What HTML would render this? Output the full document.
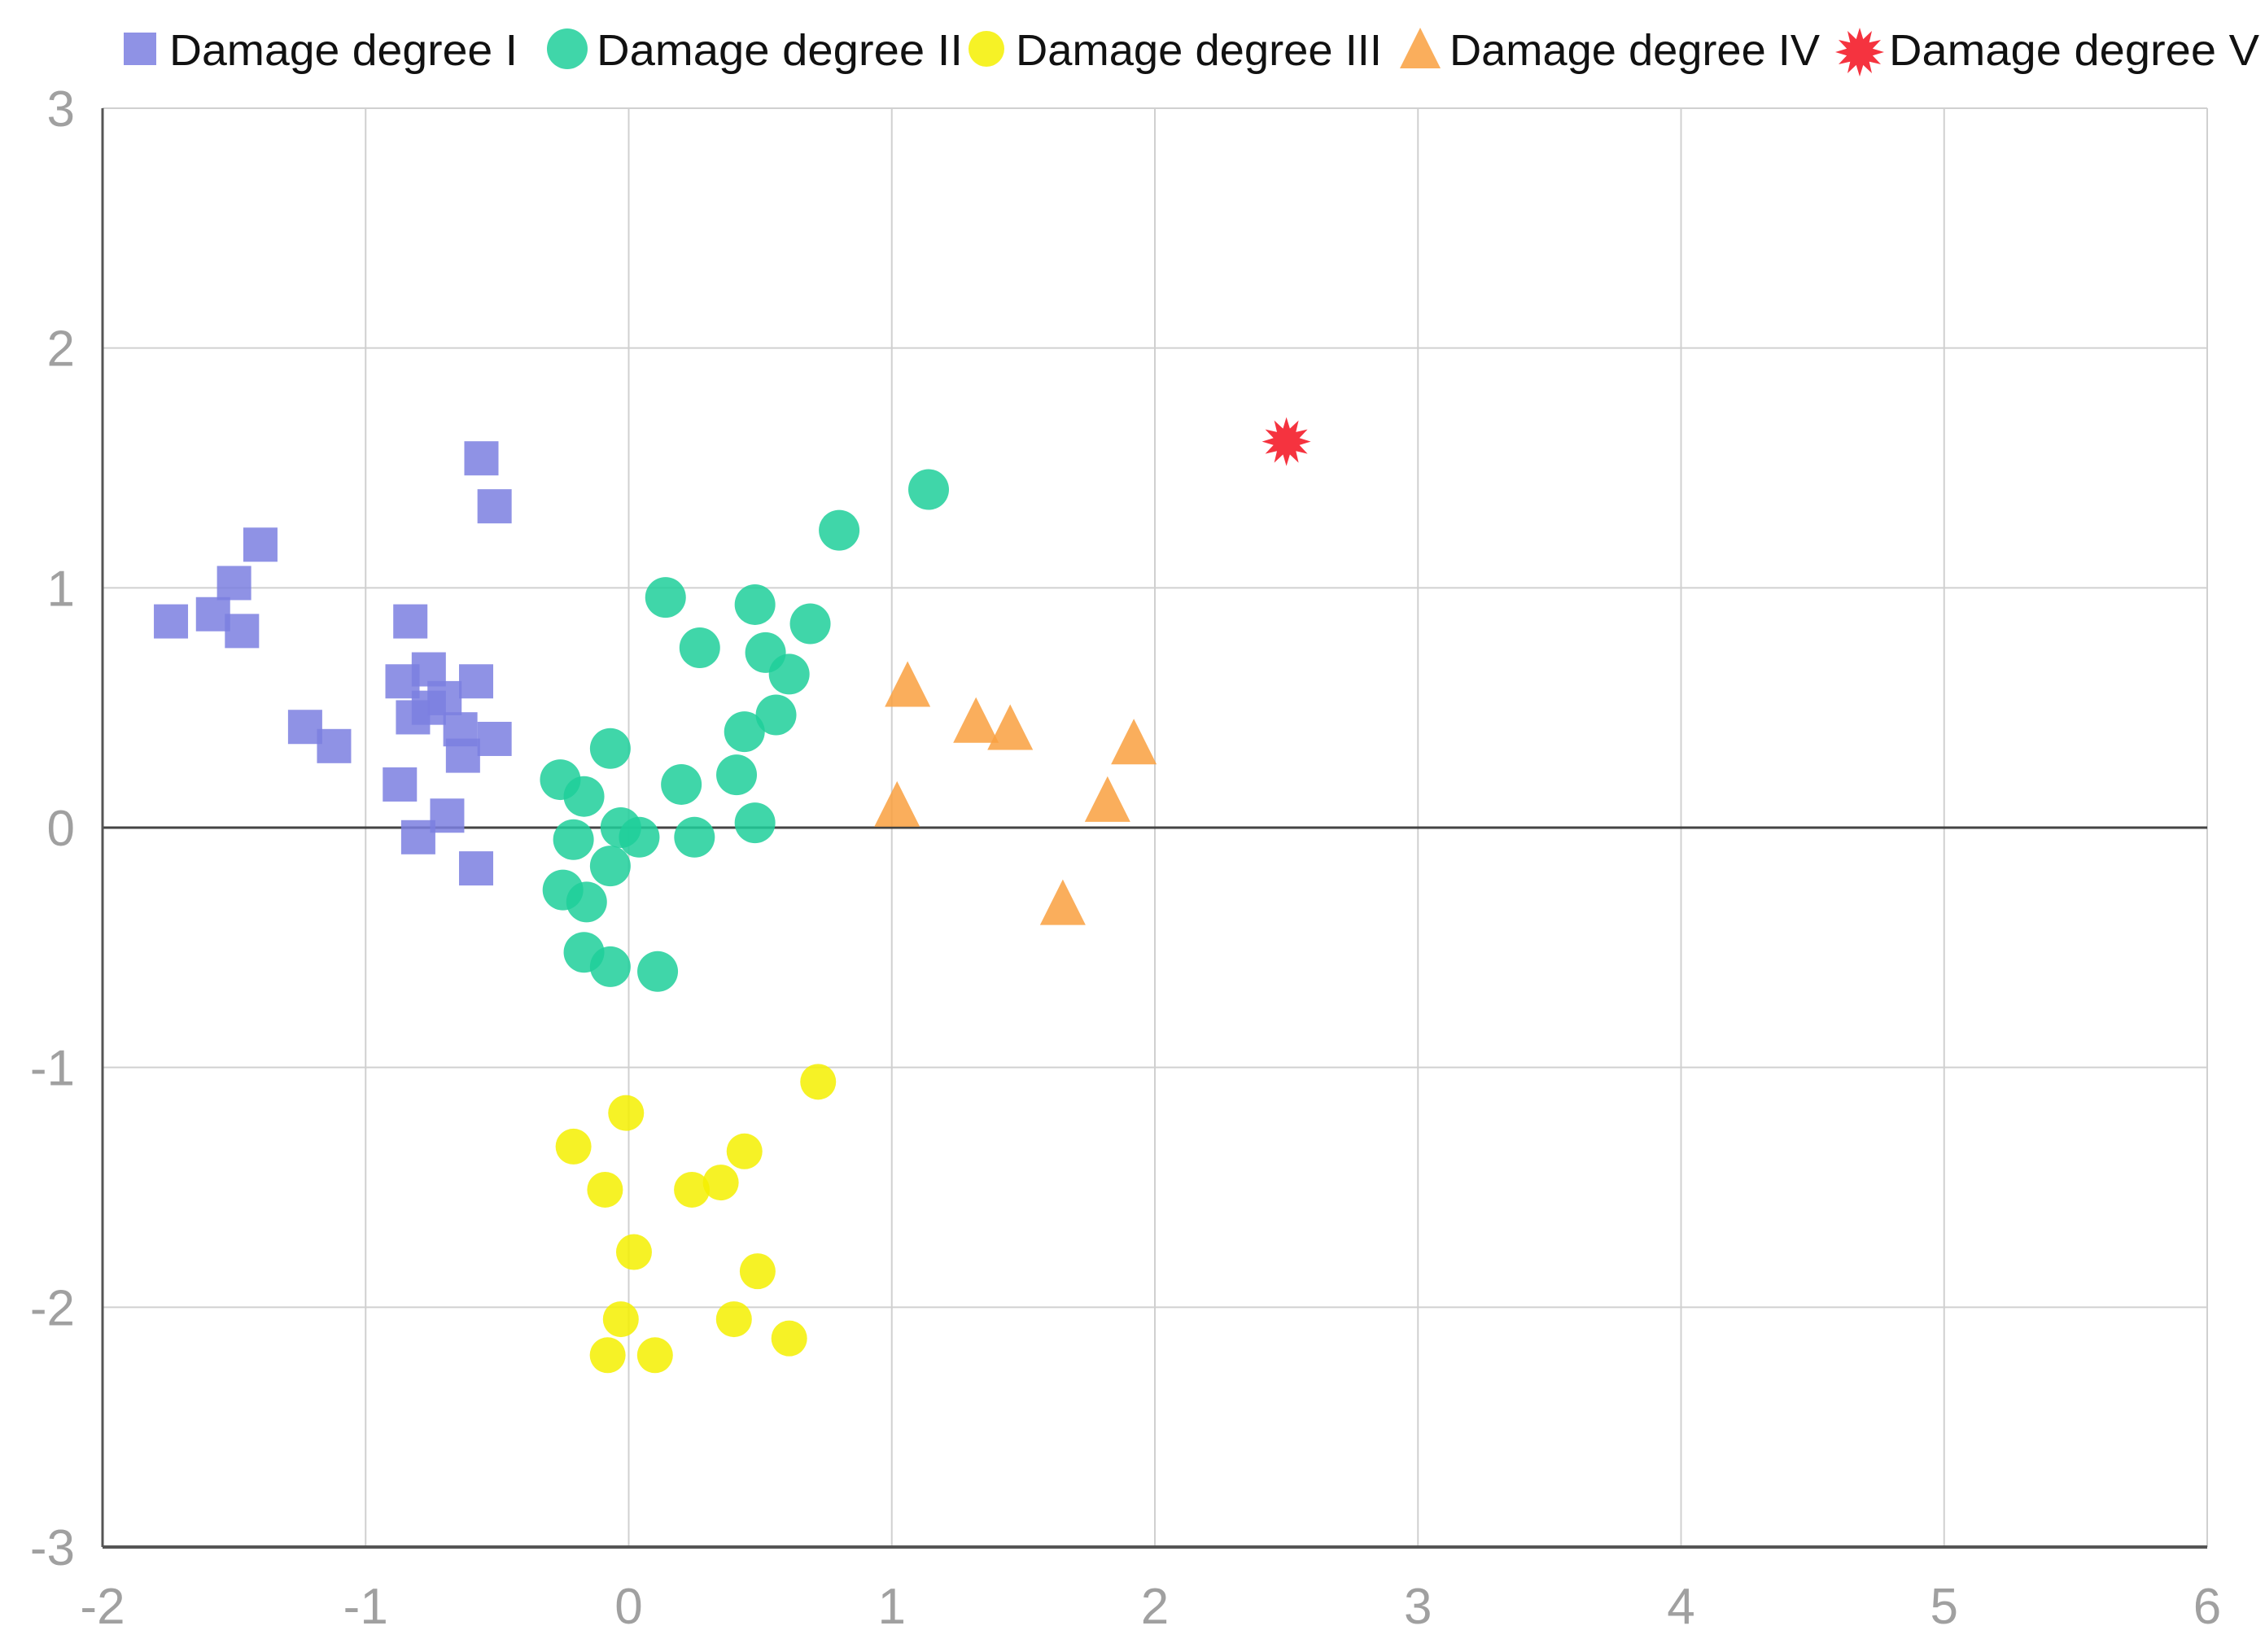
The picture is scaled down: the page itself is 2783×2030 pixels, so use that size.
<!DOCTYPE html>
<html><head><meta charset="utf-8"><style>html,body{margin:0;padding:0;background:#fff}</style></head>
<body>
<svg id="chart" width="2783" height="2025" xmlns="http://www.w3.org/2000/svg" font-family="'Liberation Sans Narrow','Liberation Sans',sans-serif">
<g id="grid"></g>
<g id="axes"></g>
<g id="marks"></g>
<g id="legend"></g>
</svg>
<script>
const xTicks=[-2,-1,0,1,2,3,4,5,6];
const yTicks=[3,2,1,0,-1,-2,-3];
const d1x=[-1.74,-1.58,-1.50,-1.40,-1.47,-0.56,-0.51,-0.83,-0.86,-0.76,-0.82,-0.70,-0.58,-0.64,-0.51,-0.63,-1.23,-1.12,-0.87,-0.69,-0.80,-0.58,-0.76];
const d1y=[0.86,0.89,1.02,1.18,0.82,1.54,1.34,0.86,0.61,0.66,0.46,0.54,0.61,0.41,0.37,0.30,0.42,0.34,0.18,0.05,-0.04,-0.17,0.50];
const d2x=[1.14,0.80,0.14,0.48,0.69,0.27,0.52,0.61,0.44,0.56,-0.07,0.41,0.20,-0.26,-0.17,0.48,-0.21,-0.03,0.04,0.25,-0.25,-0.16,-0.07,-0.17,-0.07,0.11];
const d2y=[1.41,1.24,0.96,0.93,0.85,0.75,0.73,0.64,0.40,0.47,0.33,0.22,0.18,0.20,0.13,0.02,-0.05,0.0,-0.04,-0.04,-0.26,-0.31,-0.16,-0.52,-0.58,-0.60];
const d3x=[0.72,-0.01,-0.21,0.44,-0.09,0.24,0.35,0.02,0.49,-0.03,0.40,0.61,-0.08,0.10];
const d3y=[-1.06,-1.19,-1.33,-1.35,-1.51,-1.51,-1.48,-1.77,-1.85,-2.05,-2.05,-2.13,-2.20,-2.20];
const d4x=[1.06,1.32,1.45,1.92,1.02,1.82,1.65];
const d4y=[0.58,0.43,0.40,0.34,0.08,0.10,-0.33];
const d5x=[2.50];
const d5y=[1.61];
const legendLabels=["Damage degree I","Damage degree II","Damage degree III","Damage degree IV","Damage degree V"];

const NS="http://www.w3.org/2000/svg";
const X0=126,X1=2712,Y0=133,Y1=1901;
const sx=v=>X0+(v+2)/8*(X1-X0);
const sy=v=>Y0+(3-v)/6*(Y1-Y0);
function mk(tag,attrs,parent){const e=document.createElementNS(NS,tag);for(const k in attrs)e.setAttribute(k,attrs[k]);parent.appendChild(e);return e;}
const grid=document.getElementById('grid'),axes=document.getElementById('axes'),marks=document.getElementById('marks'),legend=document.getElementById('legend');
xTicks.forEach(t=>{
 const l=mk('line',{x1:sx(t),x2:sx(t),y1:Y0,y2:Y1,stroke:'#d0d0d0','stroke-width':2},grid);
 
 
 const tx=mk('text',{x:sx(t),y:1995,'text-anchor':'middle','font-size':62,fill:'#a0a0a0'},axes);
 tx.textContent=t;
 
 
});
yTicks.forEach(t=>{
 const l=mk('line',{x1:X0,x2:X1,y1:sy(t),y2:sy(t),stroke:t===0?'#444':'#d0d0d0','stroke-width':t===0?3:2},grid);
 
 
 const tx=mk('text',{x:92,y:sy(t)+22,'text-anchor':'end','font-size':62,fill:'#a0a0a0'},axes);
 tx.textContent=t;
 
 
});
let a=mk('line',{x1:X0,x2:X0,y1:Y0,y2:Y1,stroke:'#555','stroke-width':3},axes);


a=mk('line',{x1:X0,x2:X1,y1:Y1,y2:Y1,stroke:'#555','stroke-width':4},axes);



const C1='#7b7fe0',C2='#1ecf9a',C3='#f5f000',C4='#f9a040',C5='#f5333f';
function square(cx,cy,s,p){return mk('rect',{x:cx-s/2,y:cy-s/2,width:s,height:s,fill:C1,'fill-opacity':0.85},p);}
function circ(cx,cy,r,c,p){return mk('circle',{cx:cx,cy:cy,r:r,fill:c,'fill-opacity':0.85},p);}
function tri(cx,cy,s,p){return mk('polygon',{points:`${cx},${cy-s*0.6} ${cx-s/2},${cy+s*0.4} ${cx+s/2},${cy+s*0.4}`,fill:C4,'fill-opacity':0.85},p);}
function star(cx,cy,r,p){let pts=[];for(let i=0;i<24;i++){const rr=i%2?r*0.55:r;const an=i*Math.PI/12;pts.push((cx+rr*Math.sin(an)).toFixed(1)+','+(cy-rr*Math.cos(an)).toFixed(1));}return mk('polygon',{points:pts.join(' '),fill:C5},p);}

d1x.forEach((v,i)=>{const e=square(sx(v),sy(d1y[i]),42,marks);
 
 });
d2x.forEach((v,i)=>{const e=circ(sx(v),sy(d2y[i]),25,C2,marks);
 
 });
d3x.forEach((v,i)=>{const e=circ(sx(v),sy(d3y[i]),22,C3,marks);
 
 });
d4x.forEach((v,i)=>{const e=tri(sx(v),sy(d4y[i]),56,marks);
 
 });
d5x.forEach((v,i)=>{const e=star(sx(v),sy(d5y[i]),30,marks);
 
 });

const lx=[172,697,1212,1745,2285];
const tw=[428,450,450,455,455];
legendLabels.forEach((lab,i)=>{
 const g=mk('g',{},legend);
 
 
 const cx=lx[i],cy=60;
 let m;
 if(i===0)m=square(cx,cy,40,g);else if(i===1)m=circ(cx,cy,25,C2,g);else if(i===2)m=circ(cx,cy,22,C3,g);else if(i===3)m=tri(cx,cy+4,50,g);else m=star(cx,cy+4,30,g);
 
 
 const t=mk('text',{x:cx+36,y:80,'font-size':54,fill:'#111',textLength:tw[i],lengthAdjust:'spacingAndGlyphs'},g);
 t.textContent=lab;
 
 
});
</script>
</body></html>
